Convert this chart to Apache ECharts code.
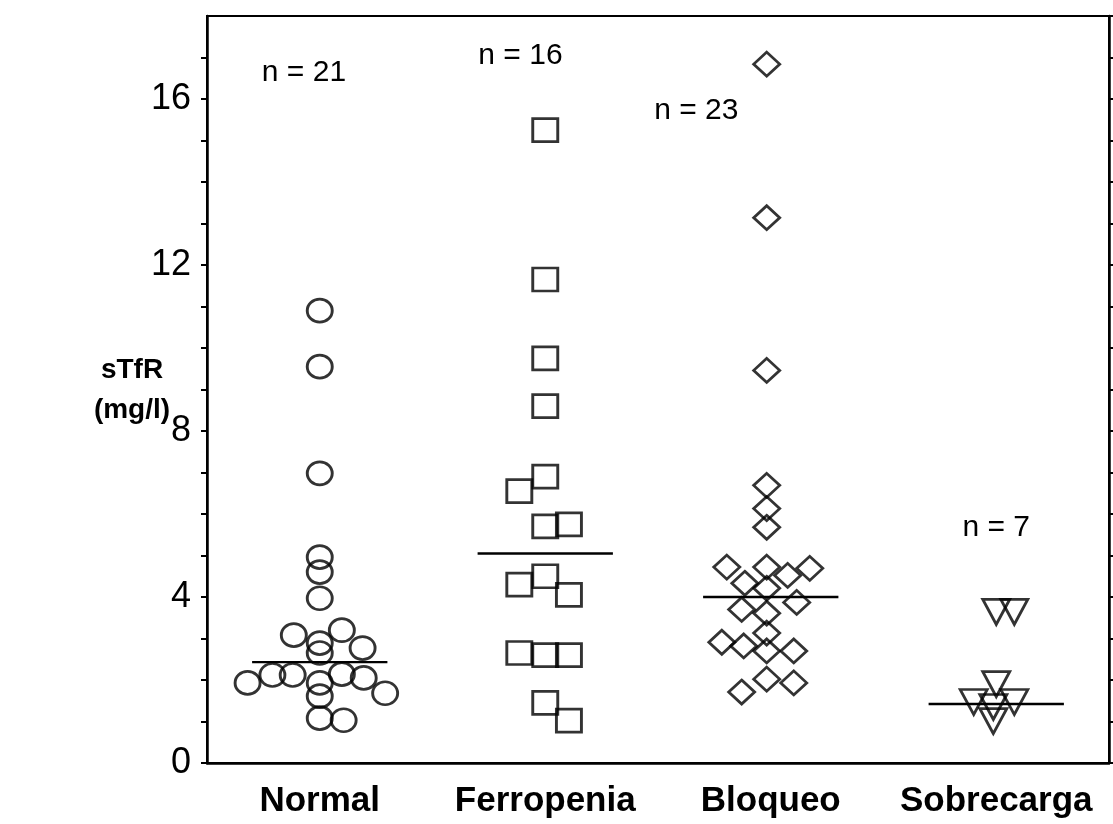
<!DOCTYPE html>
<html><head><meta charset="utf-8">
<script src="https://cdn.jsdelivr.net/npm/echarts@6/dist/echarts.min.js"></script>
<style>html,body{margin:0;padding:0;background:#fff}#c{width:1113px;height:824px}</style>
</head><body><div id="c"></div>
<script>
const categories = ['Normal', 'Ferropenia', 'Bloqueo', 'Sobrecarga'];
const yTickLabels = [0, 4, 8, 12, 16];
// each point: [horizontal jitter from group centre, sTfR (mg/l)]
const normal = [
  [0, 10.9], [0, 9.55], [0, 6.98], [0, 4.96], [0, 4.6], [0, 3.97],
  [-0.115, 3.08], [0.098, 3.2], [0.19, 2.77], [0, 2.89], [0, 2.65],
  [-0.32, 1.93], [-0.21, 2.12], [-0.12, 2.12], [0, 1.93], [0.098, 2.14],
  [0.195, 2.05], [0.29, 1.68], [0, 1.61], [0, 1.08], [0.106, 1.03]
];
const ferropenia = [
  [0, 15.25], [0, 11.65], [0, 9.75], [0, 8.6], [0, 6.9], [-0.115, 6.55],
  [0, 5.7], [0.105, 5.75], [0, 4.5], [-0.115, 4.3], [0.105, 4.05],
  [-0.115, 2.65], [0, 2.6], [0.105, 2.6], [0, 1.45], [0.105, 1.02]
];
const bloqueo = [
  [-0.018, 16.84], [-0.018, 13.14], [-0.018, 9.46],
  [-0.018, 6.69], [-0.018, 6.13], [-0.018, 5.68],
  [-0.195, 4.72], [-0.018, 4.72], [0.075, 4.52], [0.173, 4.69],
  [-0.115, 4.33], [-0.018, 4.21], [0.115, 3.87], [-0.129, 3.7],
  [-0.018, 3.61], [-0.018, 3.13], [-0.217, 2.91], [-0.12, 2.82],
  [-0.018, 2.7], [0.102, 2.7], [-0.018, 2.02], [0.102, 1.93], [-0.129, 1.71]
];
const sobrecarga = [
  [0, 3.64], [0.08, 3.64], [0, 1.9], [-0.1, 1.47], [0.08, 1.47], [-0.013, 1.35], [-0.013, 1.01]
];
const medians = [2.43, 5.05, 4.0, 1.42];
const nLabels = ['n = 21', 'n = 16', 'n = 23', 'n = 7'];
const nLabelAt = [[-0.07, 16.63], [0.89, 17.04], [1.67, 15.71], [3.0, 5.68]];

const groups = [normal, ferropenia, bloqueo, sobrecarga];
const symbols = ['circle', 'rect', 'diamond', 'triangle'];
const sizes = [[25, 23], [25, 23], [26, 24], [27, 25]];
const rotations = [0, 0, 0, 180];
const HALF = 0.3;
const FONT = '"Liberation Sans", Arial, Helvetica, sans-serif';

const series = [];
groups.forEach((g, i) => {
  series.push({
    type: 'scatter', xAxisIndex: 1, yAxisIndex: 0,
    symbol: symbols[i], symbolSize: sizes[i], symbolRotate: rotations[i],
    itemStyle: { color: 'rgba(0,0,0,0)', borderColor: '#000', borderWidth: 2.8 },
    data: g.map(p => [i + p[0], p[1]]),
    silent: true, z: 3
  });
  series.push({
    type: 'line', xAxisIndex: 1, yAxisIndex: 0, symbol: 'none',
    lineStyle: { color: '#000', width: 2.4 },
    data: [[i - HALF, medians[i]], [i + HALF, medians[i]]],
    silent: true, z: 2
  });
});
series.push({
  type: 'scatter', xAxisIndex: 1, yAxisIndex: 0, symbolSize: 1,
  itemStyle: { color: 'rgba(0,0,0,0)' },
  label: { show: true, position: 'inside', formatter: p => p.data[2],
    color: '#000', opacity: 1, textBorderWidth: 0, fontSize: 30, fontFamily: FONT },
  data: nLabelAt.map((p, i) => [p[0], p[1], nLabels[i]]),
  silent: true, z: 4
});

const chart = echarts.init(document.getElementById('c'), null, { renderer: 'canvas' });
chart.setOption({
  animation: false,
  backgroundColor: '#fff',
  grid: { left: 207, right: 4, top: 16, bottom: 61, show: true, borderColor: '#000', borderWidth: 2, backgroundColor: 'transparent' },
  xAxis: [
    { type: 'category', data: categories, boundaryGap: true, position: 'bottom',
      axisLine: { onZero: false, lineStyle: { color: '#000', width: 2.5 } },
      axisTick: { show: false },
      axisLabel: { interval: 0, color: '#000', fontSize: 35, fontWeight: 'bold', margin: 21, fontFamily: FONT },
      splitLine: { show: false } },
    { type: 'value', min: -0.5, max: 3.5, show: false }
  ],
  yAxis: [
    { type: 'value', min: 0, max: 18, interval: 1, position: 'left',
      axisLine: { show: true, onZero: false, lineStyle: { color: '#000', width: 2.5 } },
      axisTick: { show: true, inside: false, length: 6, lineStyle: { color: '#000', width: 2 } },
      axisLabel: { color: '#000', fontSize: 36, margin: 16, showMaxLabel: false, fontFamily: FONT,
        formatter: v => yTickLabels.indexOf(v) >= 0 ? String(v) : '' },
      splitLine: { show: false } },
    { type: 'value', min: 0, max: 18, interval: 1, position: 'right',
      axisLine: { show: true, onZero: false, lineStyle: { color: '#000', width: 2.5 } },
      axisTick: { show: true, inside: false, length: 4, lineStyle: { color: '#000', width: 2 } },
      axisLabel: { show: false }, splitLine: { show: false } }
  ],
  graphic: [{
    type: 'text', x: 132, y: 350,
    style: { text: 'sTfR\n(mg/l)', font: 'bold 28px ' + FONT,
      fill: '#000', align: 'center', verticalAlign: 'top', lineHeight: 40 }
  }],
  series: series
});
</script></body></html>
